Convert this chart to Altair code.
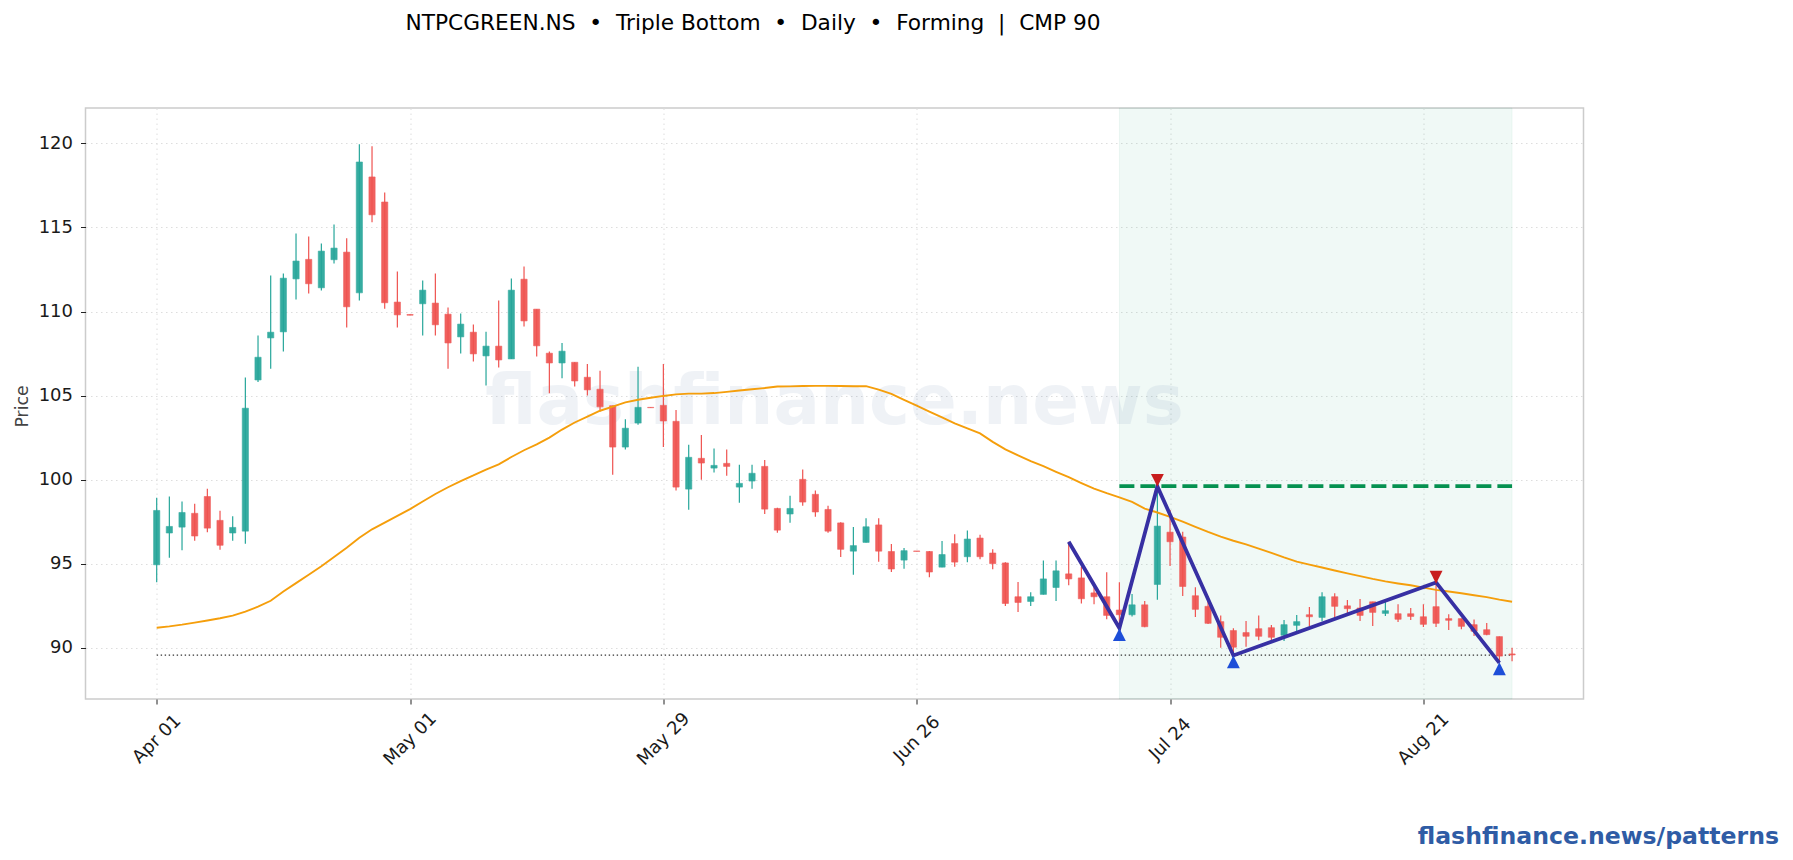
"""Triple bottom candlestick chart for NTPCGREEN.NS."""

import json

import altair as alt
import pandas as pd

FONT = "DejaVu Sans"

tick_positions = [0, 20, 40, 60, 80, 100]
tick_labels = ["Apr 01", "May 01", "May 29", "Jun 26", "Jul 24", "Aug 21"]
price_ticks = [90, 95, 100, 105, 110, 115, 120]

opens = [
    94.94, 96.83, 97.18, 98.0, 99.0, 97.58, 96.83, 96.94, 105.93, 108.43,
    108.79, 111.94, 113.1, 111.41, 113.08, 113.53, 111.11, 118.0, 116.51, 110.56,
    109.82, 110.46, 110.5, 109.84, 108.49, 108.77, 107.36, 107.94, 107.18, 111.92,
    110.14, 107.52, 106.94, 106.98, 106.09, 105.38, 104.4, 101.94, 103.37, 104.3,
    104.42, 103.47, 99.44, 101.27, 100.69, 100.97, 99.56, 99.92, 100.79, 98.29,
    97.96, 100.02, 99.13, 98.23, 97.43, 95.75, 96.27, 97.31, 95.73, 95.22,
    95.76, 95.73, 94.8, 96.2, 95.42, 96.53, 95.64, 95.05, 93.04, 92.76,
    93.18, 93.59, 94.4, 94.16, 93.27, 93.04, 92.25, 91.97, 92.56, 93.77,
    96.88, 96.59, 93.1, 92.47, 91.56, 91.03, 90.91, 91.14, 91.2, 90.75,
    91.34, 91.97, 91.81, 93.04, 92.5, 92.37, 92.74, 92.05, 92.03, 92.03,
    91.85, 92.45, 91.74, 91.74, 91.38, 91.08, 90.67, 89.64,
]
closes = [
    98.17, 97.22, 98.05, 96.65, 97.12, 96.1, 97.16, 104.25, 107.28, 108.77,
    111.98, 113.0, 111.65, 113.59, 113.77, 110.28, 118.89, 115.75, 110.52, 109.8,
    109.78, 111.27, 109.21, 108.13, 109.25, 107.48, 107.94, 107.12, 111.27, 109.44,
    107.96, 106.94, 107.64, 105.87, 105.34, 104.33, 101.94, 103.06, 104.3, 104.28,
    103.49, 99.56, 101.33, 100.99, 100.85, 100.79, 99.78, 100.38, 98.25, 97.0,
    98.29, 98.67, 98.08, 96.94, 95.86, 96.08, 97.2, 95.75, 94.69, 95.78,
    95.74, 94.51, 95.55, 95.1, 96.47, 95.42, 95.01, 92.64, 92.7, 93.04,
    94.1, 94.58, 94.1, 92.92, 93.04, 91.93, 91.97, 92.56, 91.26, 97.24,
    96.31, 93.65, 92.29, 91.46, 90.63, 90.04, 90.69, 90.69, 90.63, 91.38,
    91.56, 91.85, 93.04, 92.47, 92.33, 91.93, 92.11, 92.21, 91.7, 91.87,
    91.4, 91.46, 91.64, 91.28, 90.99, 90.79, 89.51, 89.58,
]
highs = [
    98.93, 99.0, 98.7, 98.57, 99.46, 98.15, 97.82, 106.07, 108.57, 112.14,
    112.26, 114.64, 114.46, 114.05, 115.18, 114.35, 119.94, 119.82, 117.08, 112.38,
    109.82, 111.85, 112.26, 110.24, 109.88, 109.23, 108.79, 110.65, 111.96, 112.68,
    110.14, 107.62, 108.13, 106.98, 106.88, 106.47, 104.4, 103.6, 106.71, 104.3,
    106.88, 104.15, 102.08, 102.66, 101.85, 101.79, 100.89, 100.89, 101.17, 98.33,
    99.05, 100.6, 99.35, 98.45, 97.47, 97.18, 97.7, 97.7, 96.18, 95.94,
    95.76, 95.76, 96.35, 96.75, 96.98, 96.73, 95.86, 95.09, 93.91, 93.31,
    95.2, 95.2, 96.31, 94.83, 93.6, 94.5, 93.9, 93.2, 92.78, 99.57,
    98.2, 96.9, 93.61, 93.06, 91.93, 91.16, 91.6, 91.93, 91.36, 91.66,
    91.95, 92.43, 93.31, 93.25, 92.84, 92.9, 92.74, 92.76, 92.6, 92.37,
    92.6, 93.9, 92.0, 91.74, 91.68, 91.48, 90.67, 90.0,
]
lows = [
    93.9, 95.36, 95.8, 96.37, 96.88, 95.83, 96.37, 96.19, 105.81, 106.6,
    107.62, 110.71, 111.07, 111.25, 112.86, 109.05, 110.65, 115.3, 110.16, 109.05,
    109.78, 108.57, 108.57, 106.6, 107.5, 107.02, 105.6, 106.67, 107.18, 109.11,
    107.32, 105.14, 106.03, 105.54, 105.0, 104.05, 100.3, 101.79, 103.27, 104.28,
    101.94, 99.35, 98.21, 100.0, 100.42, 100.24, 98.63, 99.46, 97.96, 96.85,
    97.44, 98.45, 97.8, 96.85, 95.41, 94.35, 96.27, 95.12, 94.51, 94.7,
    95.74, 94.2, 94.8, 94.82, 95.09, 95.27, 94.67, 92.49, 92.13, 92.49,
    93.18, 92.78, 93.73, 92.64, 92.6, 91.7, 91.07, 91.87, 91.22, 92.86,
    94.87, 93.08, 91.83, 91.42, 90.0, 89.66, 90.06, 90.45, 90.45, 90.41,
    90.99, 91.28, 91.58, 91.78, 92.07, 91.6, 91.3, 91.89, 91.54, 91.66,
    91.24, 91.24, 91.07, 91.1, 90.71, 90.75, 89.11, 89.21,
]
sma = [
    91.2, 91.28, 91.38, 91.5, 91.63, 91.76, 91.92, 92.15, 92.45, 92.8,
    93.35, 93.85, 94.35, 94.85, 95.4, 95.95, 96.55, 97.05, 97.45, 97.85,
    98.25, 98.7, 99.15, 99.55, 99.92, 100.25, 100.6, 100.91, 101.35, 101.75,
    102.1, 102.5, 102.98, 103.4, 103.75, 104.1, 104.35, 104.6, 104.75, 104.87,
    104.98, 105.07, 105.12, 105.12, 105.15, 105.22, 105.3, 105.38, 105.45, 105.54,
    105.55, 105.57, 105.58, 105.58, 105.57, 105.56, 105.56, 105.35, 105.1, 104.75,
    104.4, 104.05, 103.7, 103.35, 103.05, 102.75, 102.25, 101.8, 101.45, 101.1,
    100.8, 100.47, 100.15, 99.8, 99.47, 99.2, 98.95, 98.68, 98.28, 98.05,
    97.79, 97.5, 97.2, 96.9, 96.62, 96.37, 96.15, 95.9, 95.65, 95.38,
    95.13, 94.95, 94.78, 94.6, 94.43, 94.27, 94.1, 93.95, 93.83, 93.72,
    93.58, 93.45, 93.35, 93.25, 93.13, 93.02, 92.87, 92.74,
]

pattern_idx = [72, 76, 79, 85, 101, 106]
pattern_price = [96.31, 91.18, 99.6, 89.55, 93.89, 89.11]
trough_idx = [76, 85, 106]
trough_price = [90.79, 89.17, 88.76]
peak_idx = [79, 101]
peak_price = [99.96, 94.2]
zone_start, zone_end = 76, 107
neckline = 99.62
support = 89.57

x_scale = alt.Scale(domain=[-5.62, 112.64], nice=False, zero=False, padding=0)
y_scale = alt.Scale(domain=[86.96, 122.1], nice=False, zero=False, padding=0)
label_map = json.dumps({str(p): t for p, t in zip(tick_positions, tick_labels)})

x_axis = alt.Axis(
    values=tick_positions,
    labelExpr=f"{label_map}[datum.value]",
    labelAngle=-45,
    labelAlign="center",
    labelBaseline="middle",
    labelPadding=35,
    labelOverlap=False,
    labelFlush=False,
    title=None,
)
y_axis = alt.Axis(
    values=price_ticks,
    labelPadding=8,
    title="Price",
    titleX=-54,
    titleY=298,
    titleFontSize=17.3,
    titleFontWeight="normal",
    titleColor="#444444",
)

candles = pd.DataFrame(
    {
        "idx": range(len(opens)),
        "open": opens,
        "close": closes,
        "high": highs,
        "low": lows,
    }
)
candles["dir"] = ["up" if c >= o else "down" for o, c in zip(opens, closes)]
candle_colors = alt.Scale(domain=["up", "down"], range=["#26a69a", "#ef5350"])


def x_q(field):
    return alt.X(f"{field}:Q", scale=x_scale, axis=x_axis)


def y_q(field):
    return alt.Y(f"{field}:Q", scale=y_scale, axis=y_axis)


wicks = (
    alt.Chart(candles)
    .mark_rule(strokeWidth=1.2)
    .encode(
        x=x_q("idx"),
        y=y_q("low"),
        y2="high:Q",
        color=alt.Color("dir:N", scale=candle_colors, legend=None),
    )
)

bodies = (
    alt.Chart(candles)
    .mark_bar(size=6.2, orient="vertical", strokeWidth=0.6, opacity=0.92)
    .encode(
        x=x_q("idx"),
        y=y_q("open"),
        y2="close:Q",
        color=alt.Color("dir:N", scale=candle_colors, legend=None),
        stroke=alt.Stroke("dir:N", scale=candle_colors, legend=None),
    )
)

zone = (
    alt.Chart(pd.DataFrame({"x0": [zone_start], "x1": [zone_end]}))
    .mark_rect(fill="#059669", fillOpacity=0.06, stroke="#059669", strokeOpacity=0.06)
    .encode(x=x_q("x0"), x2="x1:Q")
)

watermark = (
    alt.Chart(pd.DataFrame({"t": ["flashfinance.news"]}))
    .mark_text(
        font=FONT,
        fontSize=69,
        fontWeight="bold",
        color="#1e4d8c",
        opacity=0.065,
        align="center",
        baseline="middle",
    )
    .encode(text="t:N", x=alt.value(749), y=alt.value(295))
)

support_line = (
    alt.Chart(pd.DataFrame({"idx": [0, 107], "price": [support, support]}))
    .mark_line(color="#333333", strokeWidth=1.2, strokeDash=[1.4, 2.6])
    .encode(x=x_q("idx"), y=y_q("price"))
)

sma_line = (
    alt.Chart(pd.DataFrame({"idx": range(len(sma)), "price": sma}))
    .mark_line(color="#f59e0b", strokeWidth=1.9)
    .encode(x=x_q("idx"), y=y_q("price"))
)

neck_line = (
    alt.Chart(pd.DataFrame({"idx": [zone_start, zone_end], "price": [neckline, neckline]}))
    .mark_line(color="#059150", strokeWidth=3.8, strokeDash=[15, 6])
    .encode(x=x_q("idx"), y=y_q("price"))
)

pattern = (
    alt.Chart(pd.DataFrame({"idx": pattern_idx, "price": pattern_price}))
    .mark_line(color="#3730a3", strokeWidth=3.8)
    .encode(x=x_q("idx"), y=y_q("price"))
)

troughs = (
    alt.Chart(pd.DataFrame({"idx": trough_idx, "price": trough_price}))
    .mark_point(shape="M0,-1L1,1L-1,1Z", size=165, filled=True, color="#1d4ed8", opacity=1)
    .encode(x=x_q("idx"), y=y_q("price"))
)

peaks = (
    alt.Chart(pd.DataFrame({"idx": peak_idx, "price": peak_price}))
    .mark_point(shape="M0,1L1,-1L-1,-1Z", size=165, filled=True, color="#c81e1e", opacity=1)
    .encode(x=x_q("idx"), y=y_q("price"))
)

footer = (
    alt.Chart(pd.DataFrame({"t": ["flashfinance.news/patterns"]}))
    .mark_text(
        font=FONT,
        fontSize=23.6,
        fontWeight="bold",
        color="#2f5ca5",
        align="right",
        baseline="middle",
    )
    .encode(text="t:N", x=alt.value(1693.5), y=alt.value(729))
)

chart = (
    alt.layer(
        zone, watermark, support_line, wicks, bodies, sma_line,
        neck_line, pattern, troughs, peaks, footer,
    )
    .properties(
        width=1498,
        height=591,
        autosize=alt.AutoSizeParams(type="none"),
        padding={"left": 77.5, "top": 100, "right": 200, "bottom": 152},
        title=alt.TitleParams(
            "NTPCGREEN.NS\u00a0\u00a0•\u00a0\u00a0Triple Bottom\u00a0\u00a0•\u00a0\u00a0Daily"
            "\u00a0\u00a0•\u00a0\u00a0Forming\u00a0\u00a0|\u00a0\u00a0CMP 90",
            anchor="start",
            align="left",
            dx=392,
            offset=73,
            font=FONT,
            fontSize=21.7,
            fontWeight="normal",
            color="#000000",
        ),
    )
    .configure_view(stroke="#cccccc", strokeWidth=1.5)
    .configure_axis(
        labelFont=FONT,
        titleFont=FONT,
        labelFontSize=18,
        labelColor="#1a1a1a",
        domain=False,
        grid=True,
        gridColor="#dddddd",
        gridDash=[1.5, 3.5],
        gridWidth=1,
        tickColor="#222222",
        tickSize=5,
        tickWidth=1,
    )
)

chart.save("out.html", embed_options={"renderer": "svg", "actions": False})
